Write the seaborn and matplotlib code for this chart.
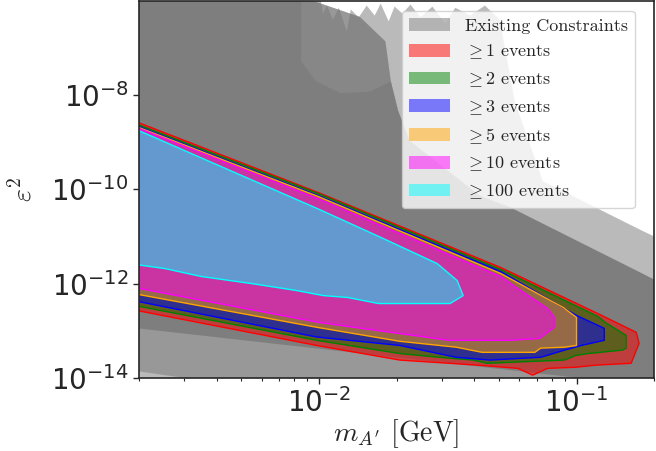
import numpy as np
import pandas as pd
import seaborn as sns
import matplotlib.pyplot as plt
from matplotlib.patches import Patch
from matplotlib.ticker import NullFormatter, NullLocator

# ---- existing constraints (mass in GeV, eps^2) ----
# upper edge of the outermost constraint (jagged top, white corner on the right)
w_m = [0.0018, 0.0099, 0.01009, 0.01036, 0.01074, 0.01132, 0.01194, 0.01283, 0.01329,
       0.01427, 0.01532, 0.01645, 0.01736, 0.01864, 0.01965, 0.02110, 0.02266, 0.02478,
       0.02757, 0.03094, 0.03383, 0.03863, 0.04410, 0.05035, 0.0575, 0.074, 0.18, 0.2093,
       0.3, 0.3, 0.0018]
w_e = [1e-5, 1e-5, 1.24e-6, 5.4e-7, 8.0e-7, 4.0e-7, 7.2e-7, 2.25e-7, 6.6e-7,
       4.5e-7, 8.0e-7, 4.9e-7, 8.8e-7, 3.7e-7, 7.6e-7, 5.4e-7, 8.4e-7, 4.5e-7,
       7.6e-7, 3.3e-7, 7.2e-7, 4.9e-7, 8.0e-7, 4.0e-7, 7.5e-9, 1.5e-10, 1.33e-11, 9.0e-12,
       4e-12, 1e-16, 1e-16]

# upper edge of the dark (beam dump) region
a_m = [0.0018, 0.0093, 0.0095, 0.0144, 0.0181, 0.0190, 0.0203, 0.0225, 0.0422, 0.0556, 0.18, 0.3]
a_e = [1e-5, 1e-5, 1e-6, 4.6e-7, 1.39e-7, 1.98e-8, 4.6e-9, 1.07e-9, 7.3e-11, 4.1e-11, 1.64e-12, 4e-13]

# upper edge of a second beam dump region (rounded notch near the top)
b_m = [0.0018, 0.00853, 0.00853, 0.00974, 0.01216, 0.01588, 0.0190, 0.0203, 0.0225, 0.0422,
       0.0556, 0.18, 0.3]
b_e = [1e-5, 1e-5, 5.2e-8, 1.98e-8, 1.1e-8, 1.2e-8, 1.98e-8, 4.6e-9, 1.07e-9, 7.3e-11,
       4.1e-11, 1.64e-12, 4e-13]

# lower edges of the constraint bands
s_m = [0.0018, 0.0035, 0.3]
s_e = [1.5e-14, 8.9e-15, 1e-16]
l_m = [0.0018, 0.0955, 0.3]
l_e = [1.2e-13, 1.05e-14, 1e-15]
l4_m = [0.0018, 0.0955, 0.105, 0.112, 0.3]
l4_e = [1.2e-13, 1.05e-14, 1.0e-14, 1e-16, 1e-16]

# ---- event contours ----
red_m = [0.0019, 0.01, 0.0509, 0.1216, 0.1706, 0.175, 0.163, 0.1184, 0.0992, 0.0773,
         0.0676, 0.0592, 0.0415, 0.0206, 0.0098, 0.0019]
red_e = [2.9e-9, 8.5e-11, 2.2e-12, 2.3e-13, 9.3e-14, 5.4e-14, 2.05e-14, 1.87e-14, 1.69e-14,
         1.6e-14, 1.15e-14, 1.6e-14, 1.87e-14, 2.4e-14, 4.9e-14, 2.8e-13]

green_m = [0.0019, 0.01, 0.0509, 0.1216, 0.1294, 0.156, 0.156, 0.1505, 0.1112, 0.0992,
           0.0899, 0.0449, 0.0397, 0.0293, 0.0206, 0.0098, 0.0019]
green_e = [2.6e-9, 8.1e-11, 2.0e-12, 2.0e-13, 1.51e-13, 8.0e-14, 4.3e-14, 3.9e-14, 3.3e-14,
           3.0e-14, 2.4e-14, 2.05e-14, 2.4e-14, 2.75e-14, 3.3e-14, 6.3e-14, 3.5e-13]

blue_m = [0.0019, 0.01, 0.0509, 0.1, 0.1282, 0.1282, 0.1045, 0.0899, 0.0726, 0.0461,
          0.0341, 0.0206, 0.0098, 0.0019]
blue_e = [2.4e-9, 7.3e-11, 1.81e-12, 2.13e-13, 1.13e-13, 6.3e-14, 4.9e-14, 3.9e-14, 2.75e-14,
          2.4e-14, 2.75e-14, 4.9e-14, 7.4e-14, 4.4e-13]

orange_m = [0.0019, 0.01, 0.0509, 0.0891, 0.1, 0.1, 0.0899, 0.0726, 0.0689, 0.043,
            0.0341, 0.0206, 0.0098, 0.0019]
orange_e = [2.3e-9, 7.0e-11, 1.64e-12, 3.1e-13, 1.93e-13, 4.9e-14, 4.5e-14, 4.3e-14, 3.5e-14,
            3.5e-14, 4.5e-14, 6.0e-14, 1.19e-13, 6.2e-13]

magenta_m = [0.0019, 0.01, 0.0509, 0.0624, 0.0773, 0.0822, 0.0822, 0.072, 0.0556, 0.032,
             0.01, 0.0019]
magenta_e = [2.2e-9, 6.3e-11, 1.42e-12, 6.5e-13, 3.0e-13, 1.93e-13, 1.19e-13, 6.9e-14, 6.3e-14,
             6.3e-14, 1.51e-13, 8.4e-13]

cyan_m = [0.0019, 0.01, 0.0174, 0.0288, 0.0344, 0.0363, 0.0323, 0.01705, 0.01294, 0.0104,
          0.00815, 0.00546, 0.0035, 0.00252, 0.0019]
cyan_e = [2.0e-9, 3.8e-11, 9.6e-12, 2.67e-12, 1.17e-12, 5.6e-13, 3.8e-13, 3.8e-13, 5.1e-13,
          5.6e-13, 7.2e-13, 1.01e-12, 1.42e-12, 2.1e-12, 2.6e-12]

labels = [r"$\geq 1$ events", r"$\geq 2$ events", r"$\geq 3$ events",
          r"$\geq 5$ events", r"$\geq 10$ events", r"$\geq 100$ events"]
colors = ["red", "green", "blue", "orange", "magenta", "cyan"]
contours = [(red_m, red_e), (green_m, green_e), (blue_m, blue_e),
            (orange_m, orange_e), (magenta_m, magenta_e), (cyan_m, cyan_e)]

sns.set_theme(style="ticks")
plt.rcParams.update({
    "font.family": "serif",
    "font.serif": ["cmr10"],
    "mathtext.fontset": "dejavusans",
    "axes.unicode_minus": False,
})

fig = plt.figure(figsize=(6.56, 4.51), dpi=100)
ax = fig.add_axes([0.2119, 0.1619, 0.7851, 0.8359])
ax.set_xscale("log")
ax.set_yscale("log")

gray = "#777777"

# existing constraints
ax.fill(w_m, w_e, color=gray, alpha=0.5, lw=0)
for um, ue, lm, le in [(a_m, a_e, s_m, s_e), (a_m, a_e, l_m, l_e), (b_m, b_e, l4_m, l4_e)]:
    ax.fill(um + lm[::-1], ue + le[::-1], color=gray, alpha=0.5, lw=0)

# event contours
for (m, e), c in zip(contours, colors):
    ax.fill(m, e, color=c, alpha=0.5, lw=0)
    df = pd.DataFrame({"m": m + m[:1], "e": e + e[:1]})
    sns.lineplot(data=df, x="m", y="e", sort=False, estimator=None,
                 color=c, lw=1.0, ax=ax)

ax.set_xlim(0.002, 0.2)
ax.set_ylim(1e-14, 1e-6)

ax.set_xticks([1e-2, 1e-1])
ax.set_xticklabels([r"$10^{-2}$", r"$10^{-1}$"])
ax.xaxis.set_minor_formatter(NullFormatter())
ax.set_yticks([1e-14, 1e-12, 1e-10, 1e-8])
ax.set_yticklabels([r"$10^{-14}$", r"$10^{-12}$", r"$10^{-10}$", r"$10^{-8}$"])
ax.yaxis.set_minor_locator(NullLocator())
ax.tick_params(which="major", labelsize=20, length=4, width=1, direction="out")
ax.tick_params(which="minor", length=2.5, width=0.8)

ax.set_xlabel(r"$m_{A'}$ [GeV]", fontsize=20, math_fontfamily="cm")
ax.set_ylabel(r"$\varepsilon^2$", fontsize=20, math_fontfamily="cm")
ax.xaxis.set_label_coords(0.5, -0.105)
ax.yaxis.set_label_coords(-0.198, 0.5)

for sp in ax.spines.values():
    sp.set_linewidth(1.2)
    sp.set_color("0.15")

handles = [Patch(facecolor=gray, alpha=0.5, edgecolor="none")]
handles += [Patch(facecolor=c, alpha=0.5, edgecolor="none") for c in colors]
leg = ax.legend(handles, ["Existing Constraints"] + labels, loc="upper right",
                bbox_to_anchor=(0.963, 0.974), borderaxespad=0, fontsize=13,
                framealpha=0.8, handlelength=2.3)
for t in leg.get_texts():
    t.set_math_fontfamily("cm")

fig.savefig("out.png", dpi=100)
